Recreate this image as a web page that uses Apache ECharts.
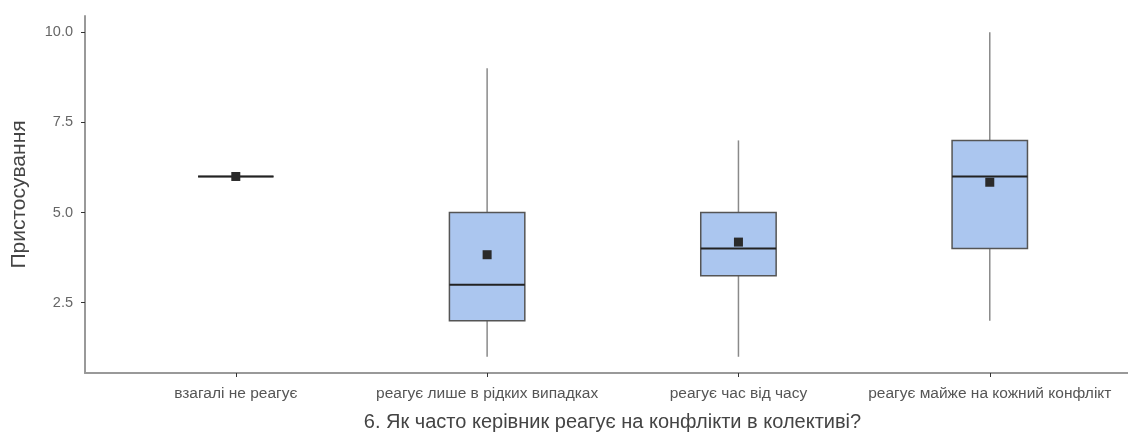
<!DOCTYPE html>
<html><head><meta charset="utf-8">
<script src="https://cdn.jsdelivr.net/npm/echarts@6/dist/echarts.min.js"></script>
<style>html,body{margin:0;padding:0;background:#fff}#c{width:1128px;height:432px}</style>
</head><body><div id="c"></div>
<script>
const categories = ["взагалі не реагує","реагує лише в рідких випадках","реагує час від часу","реагує майже на кожний конфлікт"];
const whiskerLow = [6, 1, 1, 2];
const q1 = [6, 2, 3.25, 4];
const median = [6, 3, 4, 6];
const q3 = [6, 5, 5, 7];
const whiskerHigh = [6, 9, 7, 10];
const means = [6, 3.83, 4.18, 5.84];
const yTicks = [2.5, 5, 7.5, 10];

const data = categories.map((c,i)=>[i+1, whiskerLow[i], q1[i], median[i], q3[i], whiskerHigh[i], means[i]]);

const chart = echarts.init(document.getElementById('c'));
const BOXW = 0.3;
chart.setOption({
  animation:false,
  grid:{left:85, right:0, top:16, bottom:59, outerBoundsMode:'none', containLabel:false},
  xAxis:{
    type:'value', min:0.4, max:4.55,
    name:'6. Як часто керівник реагує на конфлікти в колективі?',
    nameLocation:'middle', nameGap:39,
    nameTextStyle:{fontFamily:'Liberation Sans', fontSize:20, color:'#444', padding:[0,0,0,12]},
    axisLine:{show:true, lineStyle:{color:'#999', width:2}},
    axisTick:{show:true, customValues:[1,2,3,4], length:4, lineStyle:{color:'#333'}},
    axisLabel:{customValues:[1,2,3,4], formatter:v=>categories[Math.round(v)-1]||'', fontFamily:'Liberation Sans', fontSize:15.5, color:'#555', margin:13},
    splitLine:{show:false}
  },
  yAxis:{
    type:'value', min:0.55, max:10.45,
    name:'Пристосування', nameLocation:'middle', nameGap:55, nameRotate:90,
    nameTextStyle:{fontFamily:'Liberation Sans', fontSize:21, color:'#444'},
    axisLine:{show:true, lineStyle:{color:'#999', width:2}},
    axisTick:{show:true, customValues:yTicks, length:4, lineStyle:{color:'#333'}},
    axisLabel:{customValues:yTicks, formatter:v=>v.toFixed(1), fontFamily:'Liberation Sans', fontSize:14.5, color:'#666', margin:12},
    splitLine:{show:false}
  },
  series:[{
    type:'custom',
    data:data,
    encode:{x:0, y:[1,2,3,4,5,6]},
    renderItem:function(params, api){
      const x = api.value(0);
      const pLo = api.coord([x, api.value(1)]);
      const pQ1 = api.coord([x, api.value(2)]);
      const pMed = api.coord([x, api.value(3)]);
      const pQ3 = api.coord([x, api.value(4)]);
      const pHi = api.coord([x, api.value(5)]);
      const pMean = api.coord([x, api.value(6)]);
      const left = api.coord([x-BOXW/2, 0])[0];
      const right = api.coord([x+BOXW/2, 0])[0];
      const children = [
        {type:'line', shape:{x1:pHi[0], y1:pHi[1], x2:pQ3[0], y2:pQ3[1]}, style:{stroke:'#8a8a8a', lineWidth:1.5}},
        {type:'line', shape:{x1:pQ1[0], y1:pQ1[1], x2:pLo[0], y2:pLo[1]}, style:{stroke:'#8a8a8a', lineWidth:1.5}},
        {type:'rect', shape:{x:left, y:pQ3[1], width:right-left, height:pQ1[1]-pQ3[1]}, style:{fill:'#abc6ef', stroke:'#555', lineWidth:1.5}},
        {type:'line', shape:{x1:left, y1:pMed[1], x2:right, y2:pMed[1]}, style:{stroke:'#222', lineWidth:2}},
        {type:'rect', shape:{x:pMean[0]-4.5, y:pMean[1]-4.5, width:9, height:9}, style:{fill:'#2a2a2a'}}
      ];
      return {type:'group', children:children};
    }
  }]
});
</script></body></html>
